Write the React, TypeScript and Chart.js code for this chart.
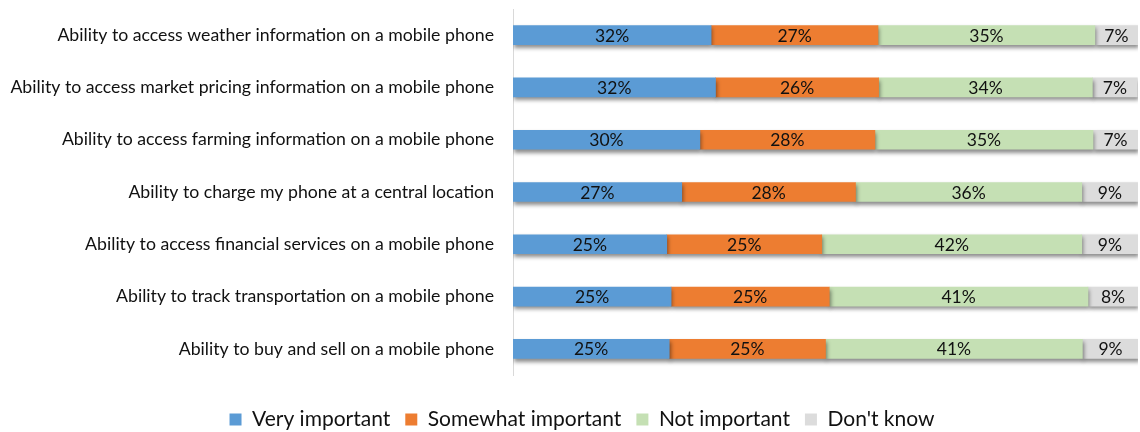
import React, { useEffect, useRef } from "react";
import { Chart, registerables } from "chart.js";

Chart.register(...registerables);

const categories = [
  "Ability to access weather information on a mobile phone",
  "Ability to access market pricing information on a mobile phone",
  "Ability to access farming information on a mobile phone",
  "Ability to charge my phone at a central location",
  "Ability to access financial services on a mobile phone",
  "Ability to track transportation on a mobile phone",
  "Ability to buy and sell on a mobile phone",
];

const seriesNames = ["Very important", "Somewhat important", "Not important", "Don't know"];

const veryImportant = [31.7, 32.4, 29.9, 27.0, 24.6, 25.3, 25.0];
const somewhatImportant = [26.7, 26.1, 28.0, 27.8, 24.8, 25.3, 25.0];
const notImportant = [34.7, 34.2, 34.9, 36.2, 41.6, 41.4, 41.1];
const dontKnow = [6.9, 7.2, 7.2, 9.0, 9.0, 8.0, 9.0];

const colors = ["#5B9BD5", "#ED7D31", "#C5E0B4", "#DCDCDC"];

const FONT = "Lato";

const barShadow = {
  id: "barShadow",
  beforeDatasetDraw(chart: any) {
    const c = chart.ctx;
    c.save();
    c.shadowColor = "rgba(0,0,0,0.45)";
    c.shadowBlur = 4;
    c.shadowOffsetX = 1;
    c.shadowOffsetY = 3;
  },
  afterDatasetDraw(chart: any) {
    chart.ctx.restore();
  },
};

const legendShift = {
  id: "legendShift",
  afterLayout(chart: any) {
    if (chart.legend) {
      chart.legend.left += 13;
      chart.legend.right += 13;
    }
  },
};

const valueLabels = {
  id: "valueLabels",
  afterDatasetsDraw(chart: any) {
    const ctx = chart.ctx;
    ctx.save();
    ctx.font = `17.5px ${FONT}`;
    ctx.fillStyle = "#111";
    ctx.textAlign = "center";
    ctx.textBaseline = "middle";
    chart.data.datasets.forEach((ds: any, i: number) => {
      const meta = chart.getDatasetMeta(i);
      meta.data.forEach((bar: any, j: number) => {
        const v = ds.data[j];
        const p = bar.getProps(["x", "y", "base"], true);
        ctx.fillText(Math.round(v) + "%", (p.x + p.base) / 2, p.y + 1);
      });
    });
    ctx.restore();
  },
};

export default function App() {
  const ref = useRef<HTMLCanvasElement | null>(null);

  useEffect(() => {
    document.body.style.margin = "0";
    const canvas = ref.current!;
    const chart = new Chart(canvas, {
      type: "bar",
      data: {
        labels: categories,
        datasets: [veryImportant, somewhatImportant, notImportant, dontKnow].map((d, i) => ({
          label: seriesNames[i],
          data: d,
          backgroundColor: colors[i],
          borderWidth: 0,
          barThickness: 19,
        })),
      },
      options: {
        indexAxis: "y",
        responsive: false,
        animation: false,
        layout: { padding: { top: 9, right: 2, left: 0, bottom: 0 } },
        scales: {
          x: {
            stacked: true,
            min: 0,
            max: 100,
            grid: { display: false },
            border: { display: false },
            ticks: { display: false },
            afterFit: (s: any) => {
              s.height = 19;
            },
          },
          y: {
            stacked: true,
            grid: { display: false },
            border: { display: true, color: "#D9D9D9", width: 1 },
            ticks: {
              font: { family: FONT, size: 17.7 },
              color: "#111",
              padding: 11,
            },
            afterFit: (s: any) => {
              s.width = 513;
              s.paddingTop = 0;
              s.paddingBottom = 0;
            },
          },
        },
        plugins: {
          legend: {
            position: "bottom",
            labels: {
              boxWidth: 12,
              boxHeight: 12,
              padding: 15,
              color: "#111",
              font: { family: FONT, size: 21 },
            },
          },
          tooltip: { enabled: false },
        },
      },
      plugins: [barShadow, valueLabels, legendShift],
    });
    return () => chart.destroy();
  }, []);

  return (
    <div
      style={{
        position: "fixed",
        top: 0,
        left: 0,
        width: 1140,
        height: 432,
        overflow: "hidden",
        background: "#fff",
      }}
    >
      <canvas ref={ref} width={1140} height={440} style={{ display: "block" }} />
    </div>
  );
}
